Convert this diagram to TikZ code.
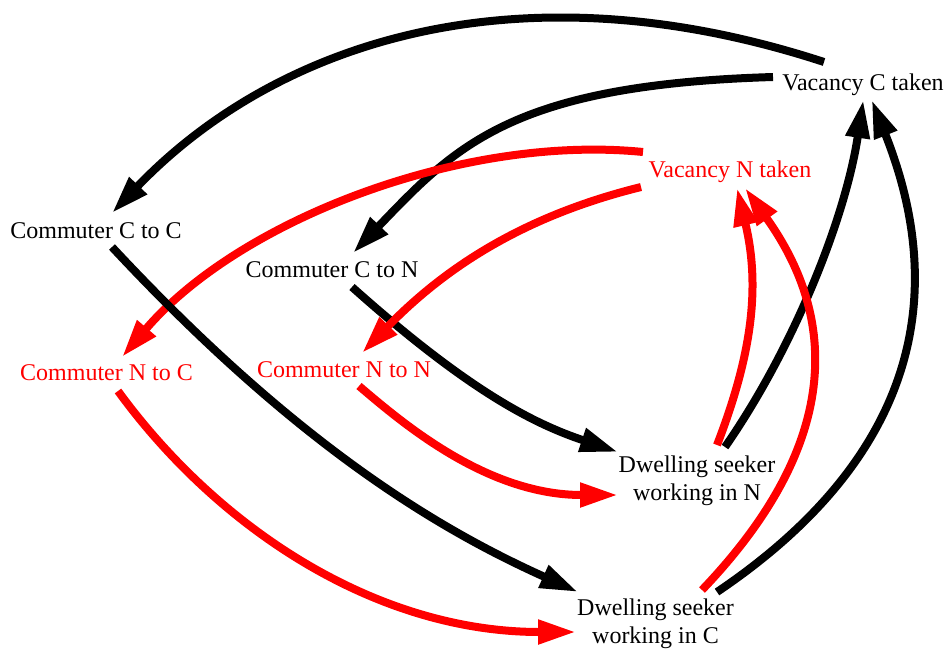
\documentclass[tikz,border=0pt]{standalone}
\usepackage{fontspec}
\setmainfont{Liberation Serif}
\usetikzlibrary{arrows.meta,calc}
\begin{document}
\begin{tikzpicture}[x=1pt,y=-1pt,
  lbl/.style={font=\fontsize{24}{28}\selectfont, inner sep=0pt, anchor=base, align=center},
  flow/.style={line width=8pt, -{Triangle[length=38pt,width=23pt]}},
  blk/.style={flow, draw=black},
  rd/.style={flow, draw=red},
]
\useasboundingbox (0,0) rectangle (947,651);

% stocks (two-line labels sit on the baseline of their last line)
\node[lbl] (vct) at (863,90) {Vacancy C taken};
\node[lbl, text=red] (vnt) at (730,177) {Vacancy N taken};
\node[lbl] (ccc) at (96,238) {Commuter C to C};
\node[lbl] (ccn) at (332,277) {Commuter C to N};
\node[lbl, text=red] (cnc) at (106.5,380) {Commuter N to C};
\node[lbl, text=red] (cnn) at (344,377) {Commuter N to N};
\node[lbl] (dsn) at (697,500) {Dwelling seeker\\working in N};
\node[lbl] (dsc) at (655.5,643) {Dwelling seeker\\working in C};

% vacancies feeding the commuter pools
\draw[blk] ($(vct.base)+(-39,-28)$) .. controls (510.5,-40.3) and (270.7,47.4) .. ($(ccc.base)+(16,-25)$);
\draw[blk] ($(vct.base)+(-90,-13)$) .. controls (513,84.8) and (456.5,145) .. ($(ccn.base)+(21,-24)$);
\draw[rd] ($(vnt.base)+(-87,-25)$) .. controls (463,134) and (239,220) .. ($(cnc.base)+(15.5,-23)$);

% commuters turning into dwelling seekers
\draw[blk] ($(ccc.base)+(16,9)$) .. controls (302.4,451.4) and (446,532.5) .. ($(dsc.base)+(-77.5,-51)$);
\draw[blk] ($(ccn.base)+(20,10)$) .. controls (472,394.2) and (537.25,424.8) .. ($(dsn.base)+(-79,-48)$);
\draw[rd] ($(vnt.base)+(-89,10)$) .. controls (524.6,215.8) and (446,266.6) .. ($(cnn.base)+(18,-24)$);
\draw[rd] ($(cnc.base)+(11.5,11)$) .. controls (218.3,528.7) and (376,632) .. ($(dsc.base)+(-79.5,-11)$);
\draw[rd] ($(cnn.base)+(15,9)$) .. controls (404.6,425) and (488,495) .. ($(dsn.base)+(-79,-5)$);

% dwelling seekers taking vacancies
\draw[blk] ($(dsn.base)+(28,-53)$) .. controls (793.4,348.6) and (845.3,218.8) .. ($(vct.base)+(0.3,10)$);
\draw[blk] ($(dsc.base)+(61.5,-51)$) .. controls (907.9,463.2) and (953.1,304.6) .. ($(vct.base)+(8.7,10)$);
\draw[rd] ($(dsn.base)+(20,-55)$) .. controls (753,352) and (760,285) .. ($(vnt.base)+(7,11)$);
\draw[rd] ($(dsc.base)+(46.5,-53)$) .. controls (826,460.4) and (849.4,333.8) .. ($(vnt.base)+(15,11)$);
\end{tikzpicture}
\end{document}
